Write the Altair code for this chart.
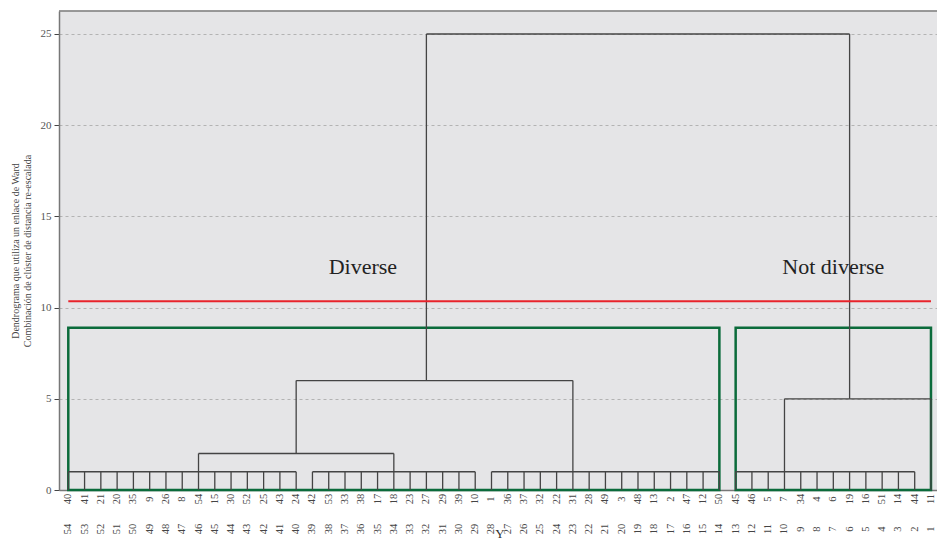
import altair as alt
import pandas as pd

# ---- data ----
leaf_labels = [40, 41, 21, 20, 35, 9, 26, 8, 54, 15, 30, 52, 25, 43, 24, 42, 53, 33,
               38, 17, 18, 23, 27, 29, 39, 10, 1, 36, 37, 32, 22, 31, 28, 49, 3, 48,
               13, 2, 47, 12, 50, 45, 46, 5, 7, 34, 4, 6, 19, 16, 51, 14, 44, 11]
order_labels = list(range(54, 0, -1))

# comb-like groups joined at height 1 (leaf index ranges)
comb_start = [0, 15, 26, 41]
comb_end = [14, 25, 40, 52]
comb_height = 1

# leaf stems (bottom to top)
leaf_top = [1] * 53 + [5]

# higher merges
link_left = [8, 14, 44, 22]
link_right = [20, 31, 53, 48]
link_height = [2, 6, 5, 25]

riser_x = [8, 20, 14, 31, 44, 22, 48]
riser_low = [1, 1, 2, 1, 1, 6, 5]
riser_high = [2, 2, 6, 6, 5, 25, 25]

cut_height = 10.35
box_start = [0, 41]
box_end = [40, 53]
box_top = 8.9

group_names = ["Diverse", "Not diverse"]
group_x = [18.1, 47.0]
group_y = 12.2

# ---- build tables ----
segs = []
for a, b in zip(comb_start, comb_end):
    segs.append(dict(x=a, x2=b, y=comb_height, y2=comb_height))
for i, t in enumerate(leaf_top):
    segs.append(dict(x=i, x2=i, y=0, y2=t))
for a, b, h in zip(link_left, link_right, link_height):
    segs.append(dict(x=a, x2=b, y=h, y2=h))
for x, lo, hi in zip(riser_x, riser_low, riser_high):
    segs.append(dict(x=x, x2=x, y=lo, y2=hi))
seg_df = pd.DataFrame(segs)

box_df = pd.DataFrame(dict(x=box_start, x2=box_end, y=[0, 0], y2=[box_top, box_top]))
cut_df = pd.DataFrame(dict(x=[0], x2=[53], y=[cut_height]))
name_df = pd.DataFrame(dict(x=group_x, y=[group_y] * 2, t=group_names))
lab_df = pd.DataFrame(dict(x=list(range(54)), leaf=[str(v) for v in leaf_labels],
                           pos=[str(v) for v in order_labels]))

W, H = 878, 479
FONT = "Liberation Serif"
xs = alt.Scale(domain=[-0.571, 53.37], nice=False, zero=False)
ys = alt.Scale(domain=[0, 26.26], nice=False, zero=False)
xaxis = alt.Axis(labels=False, ticks=False, grid=False, domain=True, domainColor="#777",
                 domainWidth=1.5, title="Y", titleFont=FONT, titleFontSize=13,
                 titleFontWeight="normal", titleColor="#333", titlePadding=37,
                 titleX=440.5)
yaxis = alt.Axis(values=[0, 5, 10, 15, 20, 25], grid=True, gridDash=[3, 3],
                 gridColor="#b3b3b3", gridWidth=1, domainColor="#777", domainWidth=1.5,
                 tickColor="#444", tickSize=5, labelFont=FONT, labelFontSize=11,
                 labelColor="#555", labelPadding=3,
                 title=["Dendrograma que utiliza un enlace de Ward",
                        "Combinación de clúster de distancia re-escalada"],
                 titleFont=FONT, titleFontSize=10, titleFontWeight="normal",
                 titleColor="#444", titlePadding=8)

X = alt.X("x:Q", scale=xs, axis=xaxis)
Y = alt.Y("y:Q", scale=ys, axis=yaxis)

lines = alt.Chart(seg_df).mark_rule(color="#444444", strokeWidth=1.3).encode(
    x=X, x2="x2:Q", y=Y, y2="y2:Q")
boxes = alt.Chart(box_df).mark_rect(fillOpacity=0, stroke="#0b6b3b", strokeWidth=2.5).encode(
    x=X, x2="x2:Q", y=Y, y2="y2:Q")
cut = alt.Chart(cut_df).mark_rule(color="#e8232b", strokeWidth=2).encode(
    x=X, x2="x2:Q", y=Y)
names = alt.Chart(name_df).mark_text(font=FONT, fontSize=22, color="#222").encode(
    x=X, y=Y, text="t:N")
leaf_text = alt.Chart(lab_df).mark_text(font=FONT, fontSize=10.5, color="#444", angle=270,
                                        align="center", baseline="middle").encode(
    x=X, y=alt.value(488), text="leaf:N")
pos_text = alt.Chart(lab_df).mark_text(font=FONT, fontSize=10.5, color="#444", angle=270,
                                       align="center", baseline="middle").encode(
    x=X, y=alt.value(518), text="pos:N")
top_border = alt.Chart(cut_df).mark_rule(color="#777", strokeWidth=1.5).encode(
    x=alt.value(0), x2=alt.value(W), y=alt.value(0))

chart = alt.layer(boxes, lines, cut, names, leaf_text, pos_text, top_border).properties(
    width=W, height=H,
    autosize=alt.AutoSizeParams(type="none"),
    padding={"left": 51, "top": 3, "right": 0, "bottom": 52},
    background="white",
).configure_view(fill="#e5e5e7", stroke="transparent")

chart.save("out.html", embed_options={"renderer": "svg", "actions": False})
